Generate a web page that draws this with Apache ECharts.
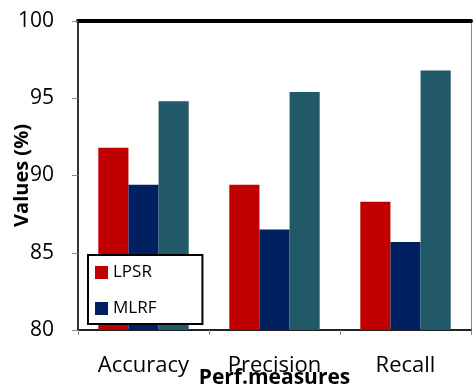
<!DOCTYPE html>
<html><head><meta charset="utf-8">
<script src="https://cdn.jsdelivr.net/npm/echarts@6/dist/echarts.min.js"></script>
<style>html,body{margin:0;padding:0;background:#fff}#c{width:474px;height:392px}</style>
</head><body><div id="c"></div>
<script>
const categories = ['Accuracy', 'Precision', 'Recall'];
const lpsr = [91.8, 89.4, 88.3];
const mlrf = [89.4, 86.5, 85.7];
const third = [94.8, 95.4, 96.8];
const yTicks = [80, 85, 90, 95, 100];

const FONT = '"Open Sans", "Liberation Sans", sans-serif';
const chart = echarts.init(document.getElementById('c'));
chart.setOption({
  animation: false,
  grid: { left: 78, right: 3, top: 21, bottom: 62, containLabel: false, outerBoundsMode: 'none' },
  legend: {
    data: ['LPSR', 'MLRF'],
    orient: 'vertical',
    left: 88, top: 255,
    backgroundColor: '#fff',
    borderColor: '#000', borderWidth: 2,
    padding: [9, 46, 7, 7],
    itemGap: 19,
    itemWidth: 13, itemHeight: 13,
    icon: 'rect',
    textStyle: { fontFamily: FONT, fontSize: 17, color: '#000' }
  },
  xAxis: [{
    type: 'category', data: categories,
    name: 'Perf.measures', nameLocation: 'middle', nameGap: 38, nameMoveOverlap: false,
    nameTextStyle: { fontFamily: FONT, fontSize: 21, fontWeight: 'bold', color: '#000' },
    axisLine: { lineStyle: { color: '#222', width: 2 } },
    axisTick: { show: true, length: 5, lineStyle: { color: '#888' } },
    axisLabel: { fontFamily: FONT, fontSize: 22, color: '#000', margin: 25 }
  }, {
    type: 'category', data: categories, position: 'top',
    axisLine: { lineStyle: { color: '#000', width: 4 } },
    axisTick: { show: false }, axisLabel: { show: false }
  }],
  yAxis: [{
    type: 'value', min: yTicks[0], max: yTicks[yTicks.length - 1], interval: 5,
    name: 'Values (%)', nameLocation: 'middle', nameGap: 46, nameMoveOverlap: false,
    nameTextStyle: { fontFamily: FONT, fontSize: 20, fontWeight: 'bold', color: '#000' },
    axisLine: { show: true, lineStyle: { color: '#333', width: 2 } },
    axisTick: { show: true, length: 6, lineStyle: { color: '#888' } },
    axisLabel: { fontFamily: FONT, fontSize: 21, color: '#000', margin: 24 },
    splitLine: { show: false }
  }, {
    type: 'value', min: yTicks[0], max: yTicks[yTicks.length - 1], position: 'right',
    axisLine: { show: true, lineStyle: { color: '#888', width: 1 } },
    axisTick: { show: false }, axisLabel: { show: false }, splitLine: { show: false }
  }],
  series: [
    { name: 'LPSR', type: 'bar', data: lpsr, barGap: '0%', barCategoryGap: '31%',
      itemStyle: { color: '#C00000' } },
    { name: 'MLRF', type: 'bar', data: mlrf, barGap: '0%', barCategoryGap: '31%',
      itemStyle: { color: '#002060' } },
    { name: 'Other', type: 'bar', data: third, barGap: '0%', barCategoryGap: '31%',
      itemStyle: { color: '#215968' } }
  ]
});
</script></body></html>
